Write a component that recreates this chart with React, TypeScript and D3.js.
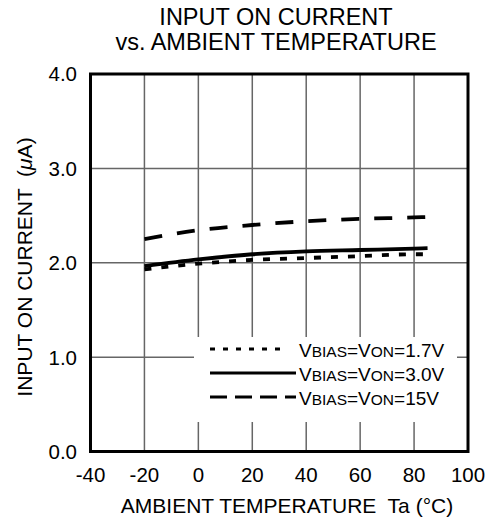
import React from "react";
import * as d3 from "d3";

const temps = [-20, 0, 20, 40, 60, 80, 85];
const v17 = [1.93, 1.99, 2.03, 2.05, 2.07, 2.09, 2.09];
const v30 = [1.965, 2.035, 2.09, 2.12, 2.135, 2.15, 2.155];
const v15 = [2.25, 2.345, 2.4, 2.44, 2.465, 2.48, 2.485];

const xTicks = [-40, -20, 0, 20, 40, 60, 80, 100];
const yTicks = [0, 1, 2, 3, 4];
const legendLabels = ["1.7V", "3.0V", "15V"];

const W = 490;
const H = 521;
const FONT = "'Liberation Sans', Arial, sans-serif";

export default function App() {
  const x = d3.scaleLinear().domain([-40, 100]).range([90.5, 468]);
  const y = d3.scaleLinear().domain([0, 4]).range([451.5, 74]);
  const line = d3
    .line<[number, number]>()
    .x((d) => x(d[0]))
    .y((d) => y(d[1]))
    .curve(d3.curveMonotoneX);
  const mk = (vals: number[]) => line(temps.map((t, i) => [t, vals[i]] as [number, number])) || "";

  const series = [
    { vals: v17, dash: "7,10", ldash: "5,8", lx2: 287 },
    { vals: v30, dash: null, ldash: null, lx2: 296 },
    { vals: v15, dash: "18,15", ldash: "17,8", lx2: 296 },
  ];

  return (
    <svg width={W} height={H} style={{ position: "absolute", left: 0, top: 0 }} fontFamily={FONT}>
      <rect x={0} y={0} width={W} height={H} fill="#fff" />
      <text x={276} y={25} textAnchor="middle" fontSize={23.5}>INPUT ON CURRENT</text>
      <text x={276} y={50} textAnchor="middle" fontSize={23.5}>vs. AMBIENT TEMPERATURE</text>

      {/* grid */}
      {xTicks.slice(1, -1).map((t) => (
        <line key={"gx" + t} x1={x(t)} x2={x(t)} y1={y(4)} y2={y(0)} stroke="#666" strokeWidth={1.5} />
      ))}
      {yTicks.slice(1, -1).map((t) => (
        <line key={"gy" + t} x1={x(-40)} x2={x(100)} y1={y(t)} y2={y(t)} stroke="#666" strokeWidth={1.5} />
      ))}

      {/* legend background */}
      <rect x={194} y={337} width={263} height={85} fill="#fff" />

      {/* curves */}
      {series.map((s, i) => (
        <path key={"c" + i} d={mk(s.vals)} fill="none" stroke="#000" strokeWidth={3.8}
          strokeDasharray={s.dash || undefined} />
      ))}

      {/* frame */}
      <rect x={x(-40)} y={y(4)} width={x(100) - x(-40)} height={y(0) - y(4)} fill="none" stroke="#000" strokeWidth={3} />

      {/* y ticks */}
      {yTicks.map((t) => (
        <text key={"yt" + t} x={77} y={y(t)} dy="0.36em" textAnchor="end" fontSize={20.5}>
          {t.toFixed(1)}
        </text>
      ))}
      {/* x ticks */}
      {xTicks.map((t) => (
        <text key={"xt" + t} x={x(t)} y={482} textAnchor="middle" fontSize={20.5}>
          {t}
        </text>
      ))}

      <text x={287} y={513} textAnchor="middle" fontSize={21} xmlSpace="preserve">
        AMBIENT TEMPERATURE  Ta (°C)
      </text>
      <text transform="translate(32,267) rotate(-90)" textAnchor="middle" fontSize={21} xmlSpace="preserve">
        INPUT ON CURRENT  (<tspan fontStyle="italic">μ</tspan>A)
      </text>

      {/* legend */}
      {series.map((s, i) => {
        const ly = 349 + i * 24;
        return (
          <g key={"lg" + i}>
            <line x1={210} x2={s.lx2} y1={ly} y2={ly} stroke="#000" strokeWidth={3}
              strokeDasharray={s.ldash || undefined} />
            <text x={299} y={ly + 7.5} fontSize={19}>
              V<tspan fontSize={15.5}>BIAS</tspan>=V<tspan fontSize={15.5}>ON</tspan>={legendLabels[i]}
            </text>
          </g>
        );
      })}
    </svg>
  );
}
